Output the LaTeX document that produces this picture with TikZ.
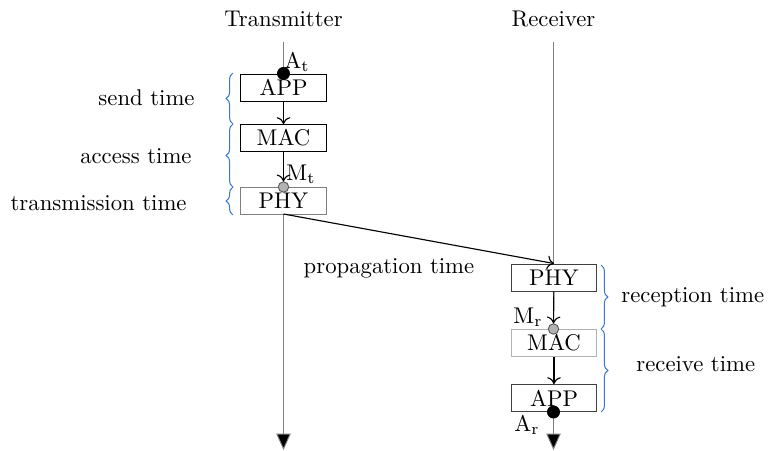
\documentclass[tikz,border=0pt]{standalone}
\usetikzlibrary{arrows.meta,decorations.pathreplacing}
\definecolor{bracecol}{RGB}{60,120,200}
\tikzset{
  layer/.style={draw, rectangle, minimum width=37.6pt, minimum height=11.9pt, inner sep=0pt, fill=white},
  timeline/.style={draw=gray, line width=0.4pt, -{Triangle[width=6.3pt,length=7.2pt,fill=black]}},
  hop/.style={draw=black, line width=0.5pt, -{To[length=3pt,width=6pt]}},
  ev/.style={circle, inner sep=0pt, minimum size=5.3pt, draw=black, fill=black},
  evg/.style={circle, inner sep=0pt, minimum size=4.6pt, draw=gray!70!black, fill=gray!60},
  tbrace/.style={draw=bracecol, line width=0.45pt, decorate, decoration={brace, amplitude=3pt}},
  lbl/.style={inner sep=0pt}
}
\begin{document}
\begin{tikzpicture}[x=0.4401pt, y=-0.4401pt]
\useasboundingbox (0,0) rectangle (768,451);

% column headings
\node[lbl] (tx) at (283.5,19) {Transmitter};
\node[lbl] (rx) at (553.5,19) {Receiver};

% time lines
\coordinate (txtop) at (283.5,42);
\coordinate (txend) at (283.5,450);
\coordinate (rxtop) at (553.5,42);
\coordinate (rxend) at (553.5,450);
\draw[timeline] (txtop) -- (txend);
\draw[timeline] (rxtop) -- (rxend);

% transmitter stack
\node[layer] (tapp) at (283.5,87.5) {APP};
\node[layer] (tmac) at (283.5,138) {MAC};
\node[layer, draw=gray] (tphy) at (283.5,201) {PHY};

% receiver stack
\node[layer, draw=black!75] (rphy) at (554,277.5) {PHY};
\node[layer, draw=gray!60] (rmac) at (554,343) {MAC};
\node[layer, draw=black!75] (rapp) at (554,398) {APP};

% events
\node[ev] (at) at (283.5,73.5) {};
\node[evg] (mt) at (283.5,187) {};
\node[evg] (mr) at (553.5,329) {};
\node[ev] (ar) at (553.5,412) {};
\node[lbl] at (297,62) {A$_{\mathrm{t}}$};
\node[lbl] at (301,174) {M$_{\mathrm{t}}$};
\node[lbl] at (528,317) {M$_{\mathrm{r}}$};
\node[lbl] at (527,425) {A$_{\mathrm{r}}$};

% hops through the stacks
\draw[hop] (tapp) -- (tmac);
\draw[hop] (tmac) -- (mt);
\draw[hop] (rphy) -- (mr);
\draw[hop] (rmac) -- (rapp);

% propagation over the channel
\coordinate (txout) at (283.5,214);
\draw[hop] (txout) -- (rphy.north);
\node[lbl] (prop) at (389,268) {propagation time};

% sender side intervals
\draw[tbrace] (233,124) -- (233,73);
\draw[tbrace] (233,187) -- (233,124);
\draw[tbrace] (233,215) -- (233,187);
\node[lbl, anchor=east] (send) at (195,98) {send time};
\node[lbl, anchor=east] (access) at (192,156) {access time};
\node[lbl, anchor=east] (trans) at (187,203) {transmission time};

% receiver side intervals
\draw[tbrace] (601,265) -- (601,329);
\draw[tbrace] (601,329) -- (601,412);
\node[lbl, anchor=west] (recep) at (621,297) {reception time};
\node[lbl, anchor=west] (recv) at (636,364) {receive time};
\end{tikzpicture}
\end{document}
